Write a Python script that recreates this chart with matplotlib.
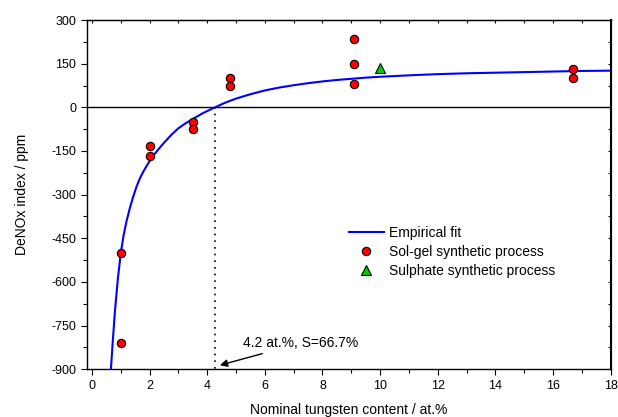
"""DeNOx index vs nominal tungsten content, with empirical fit."""

import matplotlib

matplotlib.use("Agg")

import matplotlib.pyplot as plt  # noqa: E402
from matplotlib.ticker import MultipleLocator  # noqa: E402

plt.rcParams["font.family"] = ["Liberation Sans", "DejaVu Sans"]
plt.rcParams["axes.unicode_minus"] = False

# Sol-gel samples (two or three runs per composition)
solgel_x = [1.0, 1.0, 2.0, 2.0, 3.5, 3.5, 4.8, 4.8, 9.1, 9.1, 9.1, 16.7, 16.7]
solgel_y = [-500, -810, -133, -168, -52, -73, 100, 73, 234, 148, 79, 133, 102]

# Sulphate sample
sulphate_x = [10.0]
sulphate_y = [136]

# Empirical fit curve
fit_x = [0.66, 0.72, 0.80, 0.90, 1.0, 1.1, 1.2, 1.32, 1.43, 1.55, 1.67, 1.8,
         1.95, 2.1, 2.3, 2.5, 2.75, 3.0, 3.25, 3.5, 3.85, 4.27, 4.6, 5.0, 5.5,
         6.0, 6.5, 7.0, 7.5, 8.0, 8.5, 9.0, 9.5, 10.0, 11.0, 12.0, 13.0, 14.0,
         15.0, 16.0, 17.0, 18.0]
fit_y = [-900, -810, -700, -590, -502, -440, -392, -345, -308, -272, -243,
         -218, -193, -170, -145, -122, -95, -72, -55, -40, -20, 0, 15, 30, 45,
         58, 68, 76, 83, 89, 94, 98, 102, 105, 110, 114, 117, 119, 121, 123,
         125, 126]

crossing_x = 4.27
crossing_label = "4.2 at.%, S=66.7%"

fig = plt.figure(figsize=(6.18, 4.17), dpi=100)
ax = fig.add_axes([0.1403, 0.1144, 0.8479, 0.8376])

ax.axhline(0, color="black", lw=1.0, zorder=1)
ax.plot([crossing_x, crossing_x], [0, -900], color="black", lw=1.2,
        linestyle=(0, (1, 3)), zorder=1)

ax.plot(fit_x, fit_y, color="#0000ff", lw=1.5, label="Empirical fit", zorder=2)
ax.plot(solgel_x, solgel_y, "o", color="#ff0000", markeredgecolor="black",
        markeredgewidth=0.8, markersize=6, linestyle="none",
        label="Sol-gel synthetic process", zorder=3)
ax.plot(sulphate_x, sulphate_y, "^", color="#00cc00", markeredgecolor="black",
        markeredgewidth=0.8, markersize=6.5, linestyle="none",
        label="Sulphate synthetic process", zorder=3)

ax.annotate(crossing_label, xy=(4.44, -886), xytext=(5.25, -810),
            fontsize=10, va="center", ha="left",
            arrowprops=dict(arrowstyle="-|>", color="black", lw=1.0,
                            mutation_scale=11, shrinkA=2, shrinkB=0))

ax.set_xlim(-0.18, 18)
ax.set_ylim(-900, 300)
ax.xaxis.set_major_locator(MultipleLocator(2))
ax.xaxis.set_minor_locator(MultipleLocator(1))
ax.yaxis.set_major_locator(MultipleLocator(150))
ax.yaxis.set_minor_locator(MultipleLocator(75))
ax.tick_params(which="major", direction="out", length=4, width=0.8,
               labelsize=9, colors="black")
ax.tick_params(which="minor", direction="out", length=3, width=0.8)

# mirrored inner ticks on top and right
top = ax.secondary_xaxis("top")
top.xaxis.set_major_locator(MultipleLocator(1))
top.tick_params(direction="in", length=2.5, width=0.8, labeltop=False)
right = ax.secondary_yaxis("right")
right.yaxis.set_major_locator(MultipleLocator(75))
right.tick_params(direction="in", length=2.5, width=0.8, labelright=False)

for spine in ax.spines.values():
    spine.set_linewidth(1.0)
ax.spines["right"].set_linewidth(1.5)

ax.set_xlabel("Nominal tungsten content / at.%", fontsize=10, labelpad=8)
ax.set_ylabel("DeNOx index / ppm", fontsize=10, labelpad=16)

ax.legend(loc="upper left", bbox_to_anchor=(0.5006, 0.41), frameon=False,
          fontsize=10, borderpad=0, handlelength=2.5, handletextpad=0.35,
          labelspacing=0.35, borderaxespad=0)

fig.savefig("out.png", dpi=100, facecolor="white")
plt.close(fig)
